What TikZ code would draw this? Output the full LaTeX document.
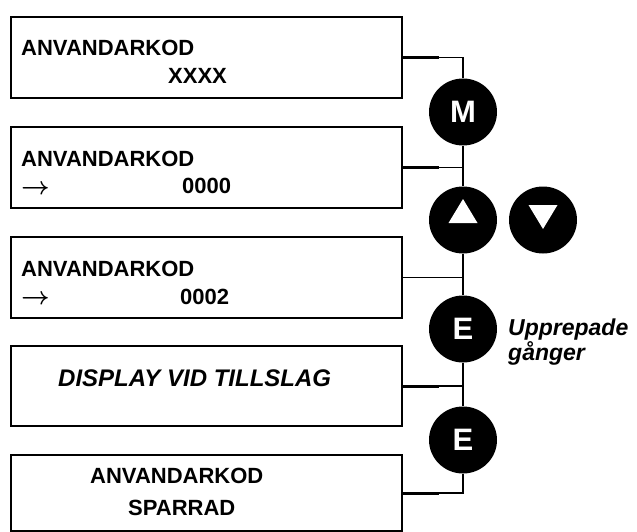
\documentclass[tikz,border=0pt]{standalone}
\usepackage{fontspec}
\setmainfont{Liberation Sans}
\usetikzlibrary{shapes.geometric}
\begin{document}
\begin{tikzpicture}[x=1pt,y=-1pt,
  panel/.style={draw,line width=2pt,minimum width=391pt,inner sep=0pt},
  txt/.style={anchor=base west,inner sep=0pt,font=\fontsize{22}{24}\selectfont\bfseries},
  itx/.style={anchor=base west,inner sep=0pt,font=\fontsize{23}{26}\selectfont\bfseries\itshape},
  arr/.style={anchor=west,inner sep=0pt,font=\fontsize{28}{28}\selectfont\boldmath},
  key/.style={ellipse,fill=black,minimum width=68pt,minimum height=67pt,inner sep=0pt,text=white,font=\fontsize{31}{31}\selectfont\bfseries},
  wire/.style={line width=1.5pt},
  stub/.style={line width=3pt}]
\useasboundingbox (0,0) rectangle (637,532);
% panels
\node[panel,minimum height=81pt] (b1) at (206.5,57.5) {};
\node[panel,minimum height=81pt] (b2) at (206.5,167.5) {};
\node[panel,minimum height=81pt] (b3) at (206.5,277.5) {};
\node[panel,minimum height=80pt] (b4) at (206.5,386) {};
\node[panel,minimum height=76pt] (b5) at (206.5,493) {};
% texts
\node[txt] (t1a) at (21,56) {ANVANDARKOD};
\node[txt] (t1b) at (168,84) {XXXX};
\node[txt] (t2a) at (21,166) {ANVANDARKOD};
\node[arr] (a2) at (21,190) {$\rightarrow$};
\node[txt] (t2b) at (182,193) {0000};
\node[txt] (t3a) at (21,276) {ANVANDARKOD};
\node[arr] (a3) at (21,300) {$\rightarrow$};
\node[txt] (t3b) at (180,304) {0002};
\node[itx,font=\fontsize{24}{26}\selectfont\bfseries\itshape] (t4) at (58,386) {DISPLAY VID TILLSLAG};
\node[txt] (t5a) at (90,483) {ANVANDARKOD};
\node[txt] (t5b) at (128,515) {SPARRAD};
% keys
\node[key] (M) at (463,112) {M};
\node[key] (up) at (463,220) {};
\node[key] (dn) at (543,220) {};
\node[key] (E1) at (463,329) {E};
\node[key] (E2) at (463,440) {E};
\fill[white,shift={(up.center)}] (0,-21) -- (14.5,3) -- (-14.5,3) -- cycle;
\fill[white,shift={(dn.center)}] (0,9) -- (14.5,-15) -- (-14.5,-15) -- cycle;
\node[itx] (u1) at (508,335) {Upprepade};
\node[itx] (u2) at (508,360) {gånger};
% wires
\draw[wire] (b1.east) -| (M.north);
\draw[wire] (M.south) -- (up.north);
\draw[wire] (up.south) -- (E1.north);
\draw[wire] (E1.south) -- (E2.north);
\draw[wire] (E2.south) |- (b5.east);
\draw[wire] (b2.east) -- (b2.east -| M.south);
\draw[wire] (b3.east) -- (b3.east -| M.south);
\draw[wire] (b4.east) -- (b4.east -| M.south);
\draw[stub] (b1.east) -- ++(36,0);
\draw[stub] (b2.east) -- ++(36,0);
\draw[stub] (b4.east) -- ++(36,0);
\draw[stub] (b5.east) -- ++(36,0);
\end{tikzpicture}
\end{document}
